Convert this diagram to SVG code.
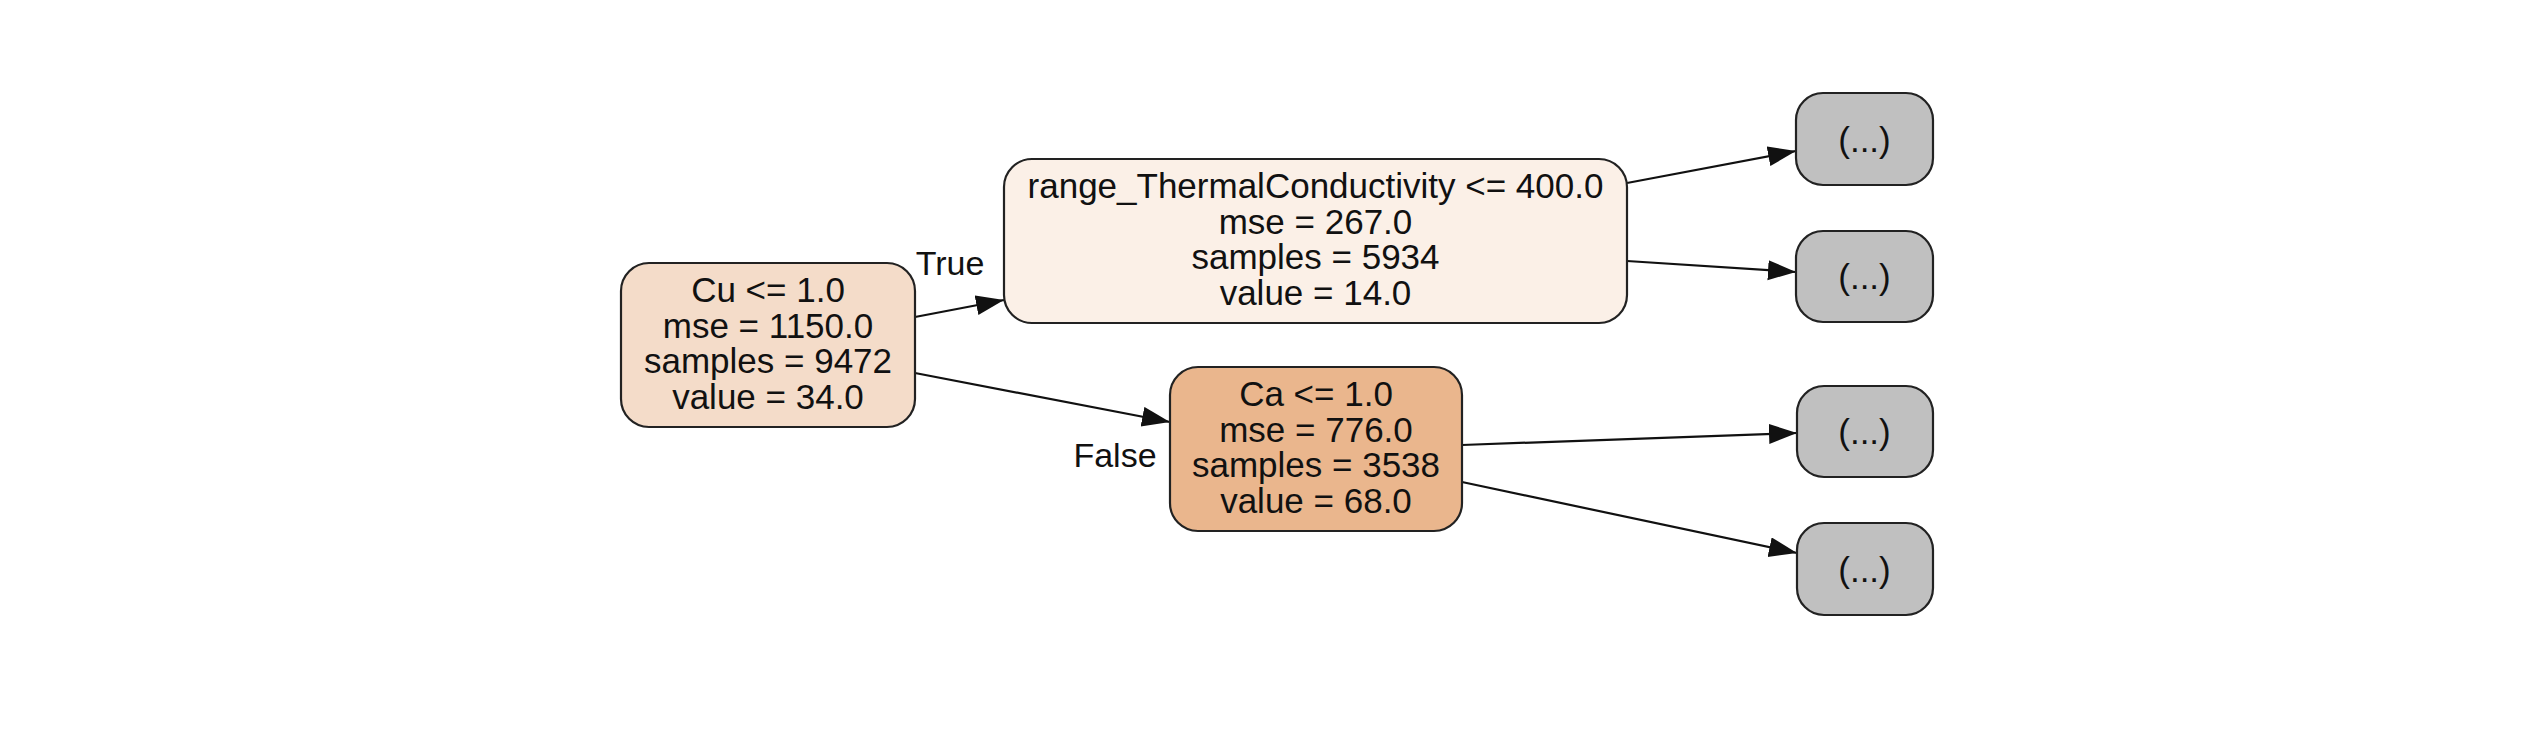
<svg xmlns="http://www.w3.org/2000/svg" width="2536" height="746" viewBox="0 0 2536 746">
<style>
.box{stroke:#222;stroke-width:2.2}
.t{font-family:"Liberation Sans",Arial,Helvetica,sans-serif;font-size:35px;fill:#111;text-anchor:middle}
.lbl{font-family:"Liberation Sans",Arial,Helvetica,sans-serif;font-size:34px;fill:#111;text-anchor:middle}
.edge{stroke:#111;stroke-width:2.2;fill:none}
.leaf{fill:#c0c0c0}
</style>
<defs>
<marker id="arr" markerUnits="userSpaceOnUse" markerWidth="30" markerHeight="22" refX="28" refY="10" orient="auto" viewBox="0 0 30 22">
<path d="M0,0 L28,10 L0,20 z" fill="#111"/>
</marker>
</defs>
<rect width="2536" height="746" fill="#fff"/>
<g id="connectors">
<line class="edge" x1="915" y1="317" x2="1004" y2="300" marker-end="url(#arr)"/>
<line class="edge" x1="915" y1="373" x2="1170" y2="422" marker-end="url(#arr)"/>
<line class="edge" x1="1627" y1="183" x2="1796" y2="151" marker-end="url(#arr)"/>
<line class="edge" x1="1627" y1="261" x2="1796" y2="272" marker-end="url(#arr)"/>
<line class="edge" x1="1462" y1="445" x2="1797" y2="433" marker-end="url(#arr)"/>
<line class="edge" x1="1462" y1="482" x2="1797" y2="553" marker-end="url(#arr)"/>
<text class="lbl" x="950" y="275">True</text>
<text class="lbl" x="1115" y="467">False</text>
</g>
<g id="node0">
<rect class="box" x="621" y="263" width="294" height="164" rx="28" fill="#f4dcc9"/>
<text class="t" x="768" y="302">Cu &lt;= 1.0</text>
<text class="t" x="768" y="338">mse = 1150.0</text>
<text class="t" x="768" y="373">samples = 9472</text>
<text class="t" x="768" y="409">value = 34.0</text>
</g>
<g id="node1">
<rect class="box" x="1004" y="159" width="623" height="164" rx="28" fill="#fbf0e7"/>
<text class="t" x="1315.5" y="198">range_ThermalConductivity &lt;= 400.0</text>
<text class="t" x="1315.5" y="234">mse = 267.0</text>
<text class="t" x="1315.5" y="269">samples = 5934</text>
<text class="t" x="1315.5" y="305">value = 14.0</text>
</g>
<g id="node2">
<rect class="box" x="1170" y="367" width="292" height="164" rx="28" fill="#eab68d"/>
<text class="t" x="1316" y="406">Ca &lt;= 1.0</text>
<text class="t" x="1316" y="442">mse = 776.0</text>
<text class="t" x="1316" y="477">samples = 3538</text>
<text class="t" x="1316" y="513">value = 68.0</text>
</g>
<g id="leaf1">
<rect class="box leaf" x="1796" y="93" width="137" height="92" rx="27"/>
<text class="t" x="1864.5" y="152">(...)</text>
</g>
<g id="leaf2">
<rect class="box leaf" x="1796" y="231" width="137" height="91" rx="27"/>
<text class="t" x="1864.5" y="289">(...)</text>
</g>
<g id="leaf3">
<rect class="box leaf" x="1797" y="386" width="136" height="91" rx="27"/>
<text class="t" x="1864.5" y="444">(...)</text>
</g>
<g id="leaf4">
<rect class="box leaf" x="1797" y="523" width="136" height="92" rx="27"/>
<text class="t" x="1864.5" y="582">(...)</text>
</g>
</svg>
